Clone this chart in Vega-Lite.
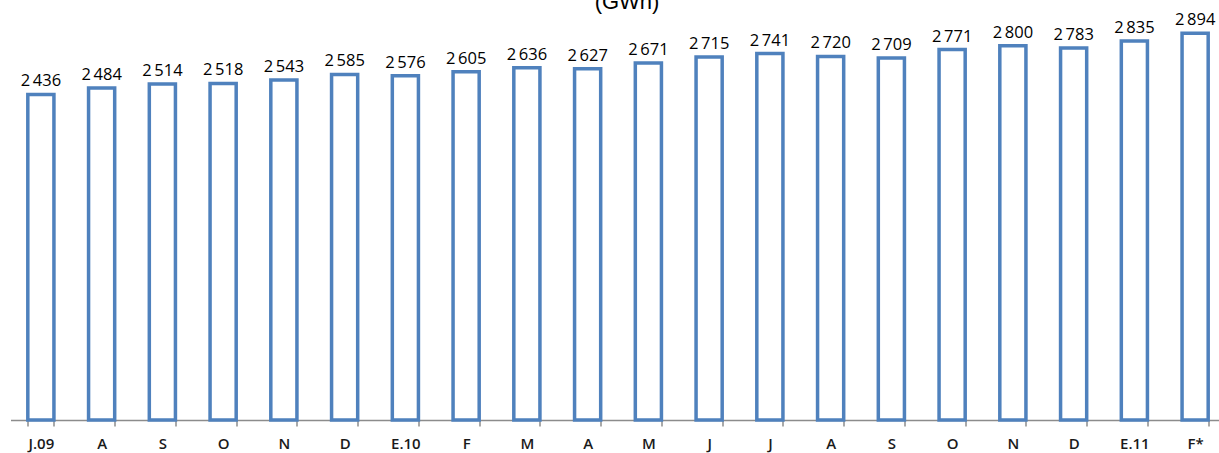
{
  "$schema": "https://vega.github.io/schema/vega-lite/v6.json",
  "autosize": "none",
  "width": 1215,
  "height": 401,
  "padding": {"top": 19, "left": 10.5, "right": 0, "bottom": 33},
  "background": "white",
  "config": {
    "view": {"stroke": null},
    "locale": {"number": {"decimal": ",", "thousands": "\u2009", "grouping": [3], "currency": ["", ""]}}
  },
  "title": {
    "text": "(GWh)",
    "fontSize": 22,
    "font": "Liberation Sans",
    "fontWeight": "normal",
    "color": "#000000",
    "anchor": "middle",
    "offset": -2,
    "dx": 9
  },
  "data": {
    "values": [
      {"mes": "2009-07", "gwh": 2436},
      {"mes": "2009-08", "gwh": 2484},
      {"mes": "2009-09", "gwh": 2514},
      {"mes": "2009-10", "gwh": 2518},
      {"mes": "2009-11", "gwh": 2543},
      {"mes": "2009-12", "gwh": 2585},
      {"mes": "2010-01", "gwh": 2576},
      {"mes": "2010-02", "gwh": 2605},
      {"mes": "2010-03", "gwh": 2636},
      {"mes": "2010-04", "gwh": 2627},
      {"mes": "2010-05", "gwh": 2671},
      {"mes": "2010-06", "gwh": 2715},
      {"mes": "2010-07", "gwh": 2741},
      {"mes": "2010-08", "gwh": 2720},
      {"mes": "2010-09", "gwh": 2709},
      {"mes": "2010-10", "gwh": 2771},
      {"mes": "2010-11", "gwh": 2800},
      {"mes": "2010-12", "gwh": 2783},
      {"mes": "2011-01", "gwh": 2835},
      {"mes": "2011-02", "gwh": 2894}
    ]
  },
  "encoding": {
    "x": {
      "field": "mes",
      "type": "ordinal",
      "scale": {"paddingInner": 0.57, "paddingOuter": 0.285},
      "axis": {
        "title": null,
        "labelAngle": 0,
        "ticks": true,
        "tickBand": "extent",
        "tickSize": 6,
        "tickWidth": 1.5,
        "tickColor": "#8c8c8c",
        "domainColor": "#8c8c8c",
        "domainWidth": 1.5,
        "labelFont": "Open Sans",
        "labelFontSize": 15,
        "labelFontWeight": 600,
        "labelColor": "#1a1a1a",
        "labelPadding": 10,
        "labelExpr": "{'2009-07':'J.09','2009-08':'A','2009-09':'S','2009-10':'O','2009-11':'N','2009-12':'D','2010-01':'E.10','2010-02':'F','2010-03':'M','2010-04':'A','2010-05':'M','2010-06':'J','2010-07':'J','2010-08':'A','2010-09':'S','2010-10':'O','2010-11':'N','2010-12':'D','2011-01':'E.11','2011-02':'F*'}[datum.value]"
      }
    },
    "y": {
      "field": "gwh",
      "type": "quantitative",
      "scale": {"domain": [0, 3000], "nice": false},
      "axis": null
    }
  },
  "layer": [
    {
      "mark": {"type": "bar", "fill": "white", "stroke": "#4F81BD", "strokeWidth": 3.5}
    },
    {
      "mark": {"type": "text", "baseline": "alphabetic", "dy": -8, "font": "Open Sans", "fontSize": 16.5, "color": "#000000"},
      "encoding": {"text": {"field": "gwh", "type": "quantitative", "format": ",d"}}
    }
  ]
}
